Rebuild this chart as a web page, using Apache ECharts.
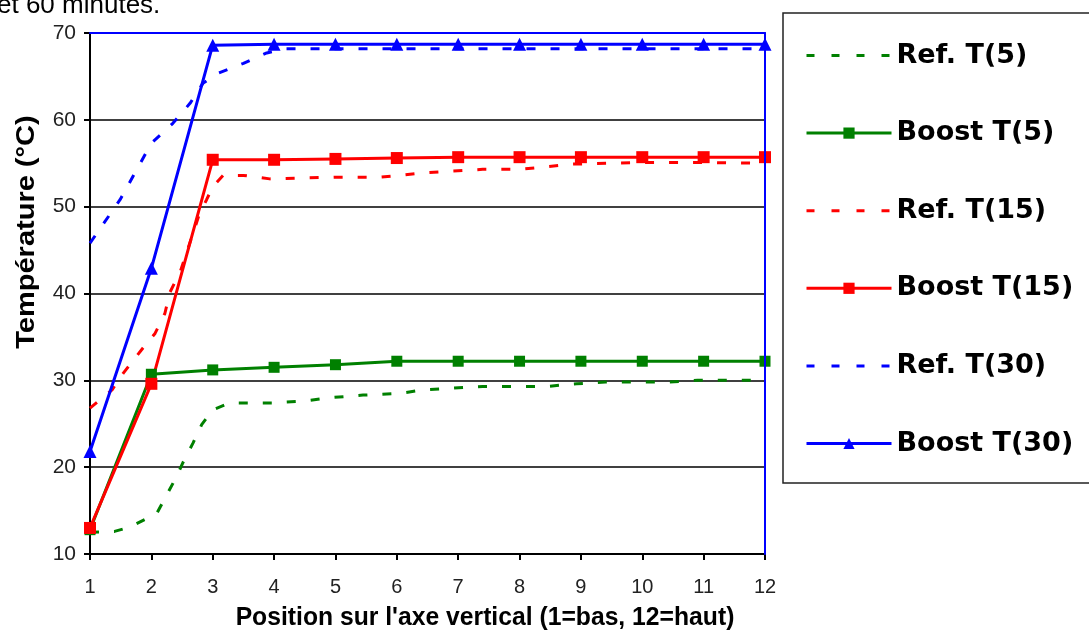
<!DOCTYPE html>
<html>
<head>
<meta charset="utf-8">
<script src="https://cdn.jsdelivr.net/npm/echarts@6/dist/echarts.min.js"></script>
<style>
  html, body { margin: 0; padding: 0; background: #fff; }
  #chart { width: 1089px; height: 631px; }
</style>
</head>
<body>
<div id="chart"></div>
<script>
// ---- data ----
var positions = [1, 2, 3, 4, 5, 6, 7, 8, 9, 10, 11, 12];
var xTickLabels = ['1','2','3','4','5','6','7','8','9','10','11','12'];
var yTickLabels = ['10','20','30','40','50','60','70'];

var boostT5  = [12.8, 30.7, 31.2, 31.5, 31.8, 32.2, 32.2, 32.2, 32.2, 32.2, 32.2, 32.2];
var boostT15 = [13.0, 29.6, 55.4, 55.4, 55.5, 55.6, 55.7, 55.7, 55.7, 55.7, 55.7, 55.7];
var boostT30 = [21.8, 42.9, 68.6, 68.7, 68.7, 68.7, 68.7, 68.7, 68.7, 68.7, 68.7, 68.7];

// reference profiles (finer vertical resolution)
var refT5X  = [1, 1.4, 1.65, 1.93, 2.09, 2.25, 2.41, 2.52, 2.68, 2.82, 3.0, 3.28, 3.98, 4.47, 4.91, 5.45, 6.05, 6.43, 6.9, 7.4, 8.0, 8.45, 8.93, 9.4, 10.0, 10.4, 10.9, 11.4, 12];
var refT5Y  = [12.5, 12.6, 13.1, 14.1, 14.7, 16.8, 18.9, 20.6, 22.8, 24.9, 26.6, 27.4, 27.4, 27.6, 28.0, 28.3, 28.5, 28.9, 29.1, 29.3, 29.3, 29.3, 29.6, 29.8, 29.8, 29.8, 30.0, 30.0, 30.0];
var refT15X = [1, 1.36, 1.54, 1.86, 2.06, 2.22, 2.3, 2.47, 2.79, 2.9, 3.0, 3.17, 3.5, 3.93, 5.0, 5.73, 6.05, 6.43, 6.9, 7.4, 8.0, 8.45, 8.87, 9.5, 10.1, 10.9, 12];
var refT15Y = [26.8, 28.9, 30.8, 33.7, 35.4, 37.7, 40.1, 42.5, 49.3, 50.8, 52.3, 53.6, 53.6, 53.2, 53.4, 53.4, 53.6, 53.9, 54.1, 54.3, 54.3, 54.6, 54.9, 55.0, 55.1, 55.1, 55.0];
var refT30X = [1, 1.49, 2.0, 2.35, 2.63, 2.84, 3.1, 3.5, 3.88, 4.2, 5, 6, 7, 8, 9, 10, 11, 12];
var refT30Y = [45.8, 50.8, 57.3, 59.6, 61.9, 64.2, 65.4, 66.5, 67.7, 68.2, 68.2, 68.2, 68.2, 68.2, 68.2, 68.2, 68.2, 68.2];

var names = ['Ref. T(5)', 'Boost T(5)', 'Ref. T(15)', 'Boost T(15)', 'Ref. T(30)', 'Boost T(30)'];
var colors = { green: '#008000', red: '#ff0000', blue: '#0000ff' };

function pairs(xs, ys) { return xs.map(function (x, i) { return [x, ys[i]]; }); }

var chart = echarts.init(document.getElementById('chart'), null, { renderer: 'canvas' });

function refSeries(name, color, data) {
  return {
    name: name, type: 'line', data: data, showSymbol: false, symbol: 'none',
    lineStyle: { color: color, width: 3, type: [9, 15] },
    itemStyle: { color: color }, z: 3, animation: false
  };
}
function boostSeries(name, color, data, symbol, size) {
  return {
    name: name, type: 'line', data: data, symbol: symbol, symbolSize: size,
    lineStyle: { color: color, width: 3 },
    itemStyle: { color: color }, z: 4, animation: false
  };
}

var legendData = names.map(function (n, i) {
  if (i % 2 === 0) {
    return { name: n, itemStyle: { opacity: 0 }, lineStyle: { type: [8, 17], width: 3 } };
  }
  return { name: n, lineStyle: { width: 3 } };
});

var option = {
  backgroundColor: '#ffffff',
  animation: false,
  grid: { left: 90, right: 324, top: 33, bottom: 77, containLabel: false },
  graphic: [
    { type: 'text', left: -3, top: -7, style: { text: 'et 60 minutes.', font: '26px "Liberation Sans", Arial, sans-serif', fill: '#000' } },
    { type: 'text', x: 27, y: 232, rotation: Math.PI / 2, scaleX: 1.16, style: { text: 'Température (°C)', font: 'bold 25px "Liberation Sans", Arial, sans-serif', fill: '#000', align: 'center', verticalAlign: 'middle' } },
    { type: 'text', x: 485, y: 618, scaleX: 0.95, style: { text: "Position sur l'axe vertical (1=bas, 12=haut)", font: 'bold 26px "Liberation Sans", Arial, sans-serif', fill: '#000', align: 'center', verticalAlign: 'middle' } }
  ],
  legend: {
    orient: 'vertical', left: 783, top: 13,
    padding: [29, 40, 26, 22],
    itemWidth: 85, itemHeight: 14, itemGap: 50.6,
    borderColor: '#222', borderWidth: 1.5, backgroundColor: '#fff',
    textStyle: { fontFamily: '"DejaVu Sans", sans-serif', fontWeight: 'bold', fontSize: 27, color: '#000' },
    data: legendData
  },
  xAxis: [
    {
      type: 'value', min: 1, max: 12, interval: 1, position: 'bottom',
      axisLine: { show: true, onZero: false, lineStyle: { color: '#000', width: 2 } },
      axisTick: { show: true, length: 6, lineStyle: { color: '#000', width: 2 } },
      axisLabel: { color: '#222', fontSize: 20, margin: 23, fontFamily: '"Liberation Sans", Arial, sans-serif',
        formatter: function (v) { return xTickLabels[positions.indexOf(v)] || ''; } },
      splitLine: { show: false }
    },
    {
      type: 'value', min: 1, max: 12, position: 'top', z: 6,
      axisLine: { show: true, onZero: false, lineStyle: { color: '#0000ff', width: 2 } },
      axisTick: { show: false }, axisLabel: { show: false }, splitLine: { show: false }
    }
  ],
  yAxis: [
    {
      type: 'value', min: 10, max: 70, interval: 10, position: 'left',
      axisLine: { show: true, onZero: false, lineStyle: { color: '#000', width: 2 } },
      axisTick: { show: true, length: 6, lineStyle: { color: '#000', width: 2 } },
      axisLabel: { color: '#222', fontSize: 21, margin: 14, fontFamily: '"Liberation Sans", Arial, sans-serif',
        formatter: function (v) { var s = String(v); return yTickLabels.indexOf(s) >= 0 ? s : ''; } },
      splitLine: { show: true, lineStyle: { color: '#000', width: 1.5 } }
    },
    {
      type: 'value', min: 10, max: 70, position: 'right', z: 6,
      axisLine: { show: true, onZero: false, lineStyle: { color: '#0000ff', width: 2 } },
      axisTick: { show: false }, axisLabel: { show: false }, splitLine: { show: false }
    }
  ],
  series: [
    refSeries(names[0], colors.green, pairs(refT5X, refT5Y)),
    boostSeries(names[1], colors.green, pairs(positions, boostT5), 'rect', 11),
    refSeries(names[2], colors.red, pairs(refT15X, refT15Y)),
    boostSeries(names[3], colors.red, pairs(positions, boostT15), 'rect', 12),
    refSeries(names[4], colors.blue, pairs(refT30X, refT30Y)),
    boostSeries(names[5], colors.blue, pairs(positions, boostT30), 'triangle', 13)
  ]
};
chart.setOption(option);
</script>
</body>
</html>
